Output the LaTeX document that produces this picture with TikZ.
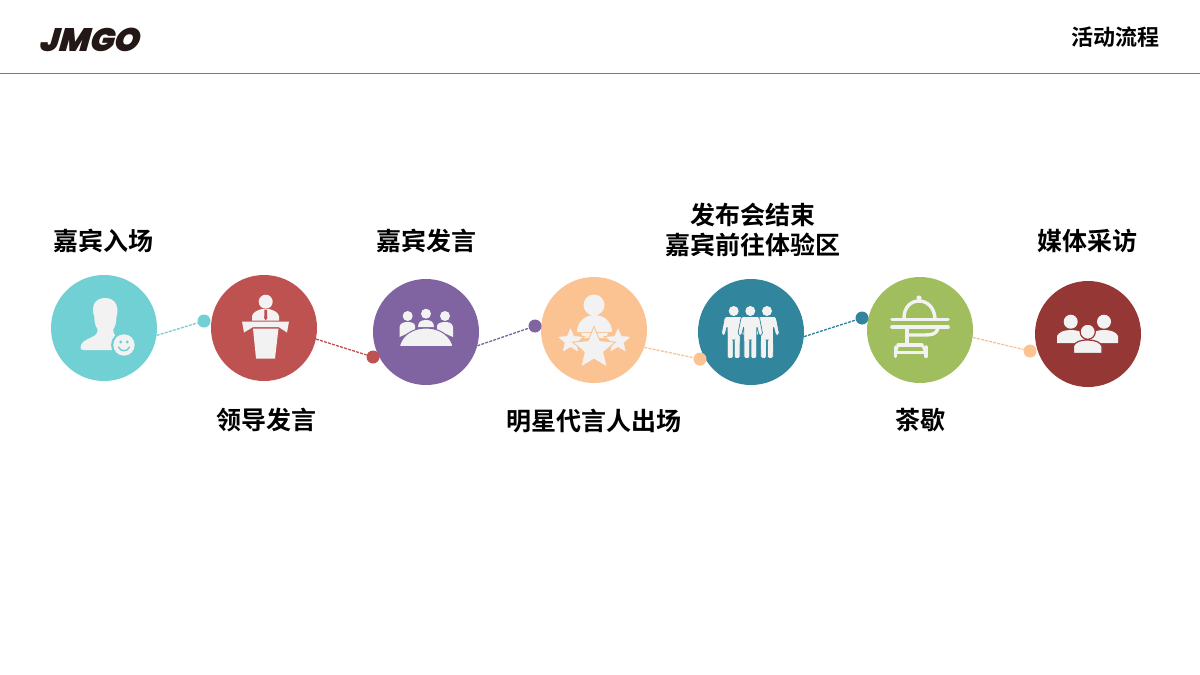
\documentclass[tikz,border=0pt]{standalone}
\usepackage{fontspec}
\usetikzlibrary{shapes.geometric}
\newfontfamily\cjkb{Noto Sans CJK SC Bold}
\newfontfamily\logofont{Poppins Black}[FakeSlant=0.28]
\definecolor{cteal}{HTML}{70D0D3}
\definecolor{cred}{HTML}{BE5250}
\definecolor{cpurple}{HTML}{8064A2}
\definecolor{cpeach}{HTML}{FBC292}
\definecolor{cblue}{HTML}{31859C}
\definecolor{cgreen}{HTML}{A0BE5E}
\definecolor{cdark}{HTML}{953735}
\definecolor{iconw}{HTML}{F2F2F2}
\definecolor{logoc}{HTML}{231815}
\tikzset{
  bigc/.style={circle,fill=#1,minimum size=106pt,inner sep=0pt,draw=none},
  dotc/.style={circle,fill=#1,minimum size=13pt,inner sep=0pt,draw=none},
  conn/.style={draw=#1,line width=1.3pt,dash pattern=on 3pt off 1.2pt},
  lab/.style={font=\cjkb\fontsize{25}{30}\selectfont,text=black,align=center,inner sep=0pt},
  ic/.style={fill=iconw,draw=none},
  icl/.style={draw=iconw,line cap=round,line join=round},
  starn/.style={star,star points=5,star point ratio=2.2,fill=iconw,draw=cpeach,line width=.9pt,inner sep=0pt,minimum size=#1}
}
\newcommand{\persona}[1]{%
  \fill[iconw] (#1,311) circle (5pt);
  \begin{scope}[xshift=#1 pt]
  \fill[iconw,draw=cblue,line width=.7pt,rounded corners=1.6pt]
    (-9,316.5) -- (-12.5,334.5) -- (-9,336) -- (-6.5,326)
    -- (-6.3,358.5) -- (-.6,358.5) -- (-.6,340) -- (.6,340)
    -- (.6,358.5) -- (6.3,358.5) -- (6.5,326) -- (9,336)
    -- (12.5,334.5) -- (9,316.5) -- cycle;
  \end{scope}
}
\begin{document}
\begin{tikzpicture}[x=1pt,y=-1pt]
\useasboundingbox (0,0) rectangle (1200,675);
\fill[white] (0,0) rectangle (1200,675);
% header
\coordinate (ruleL) at (0,73.5);
\coordinate (ruleR) at (1200,73.5);
\draw[draw=black!52,line width=1.8pt] (ruleL) -- (ruleR);
\node[inner sep=0pt,text=logoc] (logo) at (88.5,39.5) {\logofont\fontsize{32.5}{34}\selectfont JMGO};
\node[font=\cjkb\fontsize{22}{26}\selectfont,text=black,inner sep=0pt] (title) at (1115.5,37) {活动流程};
% circles
\node[bigc=cteal] (c1) at (104,328) {};
\node[bigc=cred] (c2) at (264,328) {};
\node[bigc=cpurple] (c3) at (426,332) {};
\node[bigc=cpeach] (c4) at (594,330) {};
\node[bigc=cblue] (c5) at (751,332) {};
\node[bigc=cgreen] (c6) at (920,330) {};
\node[bigc=cdark] (c7) at (1088,334) {};
% dots
\node[dotc=cteal] (d1) at (204,321) {};
\node[dotc=cred] (d2) at (373,357) {};
\node[dotc=cpurple] (d3) at (535,326) {};
\node[dotc=cpeach] (d4) at (700,359) {};
\node[dotc=cblue] (d5) at (862,318) {};
\node[dotc=cpeach] (d6) at (1030,351) {};
% connectors
\draw[conn=cteal] (c1.-8.5) -- (d1);
\draw[conn=cred] (c2.-12) -- (d2);
\draw[conn=cpurple] (c3.-15) -- (d3);
\draw[conn=cpeach] (c4.-19) -- (d4);
\draw[conn=cblue] (c5.-5.5) -- (d5);
\draw[conn=cpeach] (c6.-8) -- (d6);
% labels
\node[lab] (t1) at (103,241) {嘉宾入场};
\node[lab] (t2) at (266,420) {领导发言};
\node[lab] (t3) at (426,241) {嘉宾发言};
\node[lab] (t4) at (594,421) {明星代言人出场};
\node[lab] (t5) at (753,230) {发布会结束\\嘉宾前往体验区};
\node[lab] (t6) at (920,420) {茶歇};
\node[lab] (t7) at (1087,241) {媒体采访};
% icon 1: person with smiley
\fill[ic] (80.5,348) .. controls (80,343) and (85,340) .. (91,337.5)
  .. controls (96,335.5) and (98,333) .. (97.5,329)
  .. controls (95,326) and (94,320) .. (94.5,317)
  .. controls (91,309) and (93,298) .. (105,298)
  .. controls (117,298) and (119,309) .. (116.5,317)
  .. controls (116.5,321) and (116,325) .. (113.5,329)
  .. controls (113,333) and (114,335) .. (118,337)
  -- (122,350) -- (84,350) .. controls (82,350) and (80.5,349.5) .. (80.5,348) -- cycle;
\fill[cteal] (124,345) circle (13pt);
\fill[iconw] (124,345) circle (10.7pt);
\fill[cteal] (120.7,342) circle (1.6pt) (127.3,342) circle (1.6pt);
\draw[cteal,line width=1.4pt,line cap=round] (118.5,347) .. controls (120.5,352) and (127.5,352) .. (129.5,347);
% icon 2: speaker
\fill[iconw] (265.7,301.7) circle (7pt);
\fill[ic] (252,320.5) -- (252,316) .. controls (253,312) and (258,310) .. (262,309) -- (269,309) .. controls (273,310) and (278,312) .. (279,316) -- (279,320.5) -- cycle;
\fill[cred] (264.5,309.5) -- (267,309.5) -- (267.3,318) -- (265.7,320.5) -- (264.2,318) -- cycle;
\fill[ic] (242,321.5) -- (289,321.5) -- (287,332.5) -- (278.5,327) -- (253,327) -- (244,332.5) -- cycle;
\fill[ic] (253,328.5) -- (278.5,328.5) -- (275,358.5) -- (256,358.5) -- cycle;
% icon 3: meeting
\fill[iconw] (407.7,316) circle (5pt) (426,313.7) circle (5pt) (445,316) circle (5pt);
\fill[ic] (399.5,337) -- (399.5,327) .. controls (400,323) and (404,322) .. (408,322) .. controls (412,322) and (415,323.5) .. (415,326) -- (415,330) -- cycle;
\fill[ic] (418,327) .. controls (418,322) and (421,320) .. (426,320) .. controls (431,320) and (434,322) .. (434,327) -- cycle;
\fill[ic] (453,337) -- (453,327) .. controls (452.5,323) and (449,322) .. (445,322) .. controls (441,322) and (437,323.5) .. (437,326) -- (437,330) -- cycle;
\fill[iconw,draw=cpurple,line width=1pt] (399.5,346.5) .. controls (401,337) and (411,328) .. (426,328) .. controls (441,328) and (451,337) .. (453,346.5) -- cycle;
% icon 4: star person
\fill[iconw] (594,305) circle (10.5pt);
\fill[ic] (577,332) .. controls (577,322) and (585,315) .. (594.5,315) .. controls (604,315) and (612,322) .. (612,332) -- cycle;
\fill[ic] (581,333) -- (608,333) -- (606,338) -- (583,338) -- cycle;
\node[starn=29pt] (s2) at (570.5,341) {};
\node[starn=29pt] (s3) at (618,341) {};
\node[starn=45pt] (s1) at (594,349) {};
% icon 5: three people
\persona{733.7}
\persona{767}
\persona{750.3}
% icon 6: cart
\draw[icl,line width=3.4pt] (904,318) .. controls (904,307) and (911,301) .. (919,301) .. controls (927,301) and (934,307) .. (935,318);
\fill[iconw] (919,298) circle (2.6pt);
\draw[icl,line width=3.6pt] (892,319.5) -- (948,319.5);
\draw[icl,line width=3.6pt] (892,327) -- (948,327);
\draw[icl,line width=3.4pt] (938,328) .. controls (937,334) and (932,335) .. (923,335) -- (908,335);
\draw[icl,line width=4pt] (907,329) -- (907,345);
\draw[icl,line width=3.2pt] (898,345) -- (922,345);
\draw[icl,line width=3.4pt] (895.5,347) -- (895.5,356.5);
\draw[icl,line width=3.4pt] (926,347) -- (926,356.5);
\draw[icl,line width=3pt] (895.5,352.5) -- (926,352.5);
\draw[icl,line width=2.4pt] (898,345) -- (896,352) (922,345) -- (925.5,352);
% icon 7: group
\fill[iconw] (1070.7,321.7) circle (7pt) (1104,321.7) circle (7pt);
\fill[ic] (1057,343) -- (1057,336) .. controls (1059,332) and (1064,330) .. (1071,330) .. controls (1078,330) and (1083,332) .. (1085,336) -- (1085,343) -- cycle;
\fill[ic] (1090,343) -- (1090,336) .. controls (1092,332) and (1097,330) .. (1104,330) .. controls (1111,330) and (1116,332) .. (1118,336) -- (1118,343) -- cycle;
\fill[iconw,draw=cdark,line width=1.2pt] (1087.7,331.7) circle (7.6pt);
\fill[iconw,draw=cdark,line width=1.2pt] (1073.5,353.5) -- (1073.5,346) .. controls (1075,342) and (1080,340) .. (1087.7,340) .. controls (1095,340) and (1100,342) .. (1102,346) -- (1102,353.5) -- cycle;
\end{tikzpicture}
\end{document}
